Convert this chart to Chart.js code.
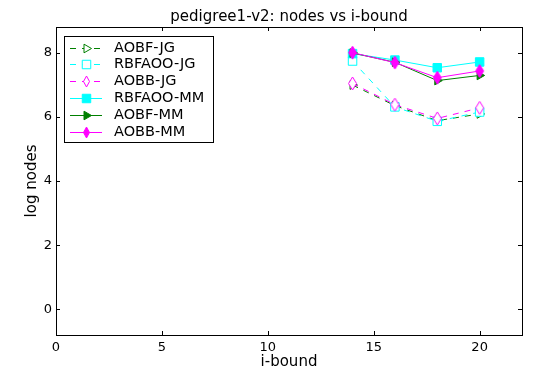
<!DOCTYPE html>
<html>
<head>
<meta charset="utf-8">
<script src="https://cdn.jsdelivr.net/npm/chart.js@4"></script>
<style>
  html, body { margin: 0; padding: 0; background: #fff; }
  #wrap { width: 534px; height: 372px; }
</style>
</head>
<body>
<div id="wrap"><canvas id="nodesChart"></canvas></div>
<script>
// datos
const iBounds = [14, 16, 18, 20];
const aobfJG = [6.99, 6.35, 5.88, 6.09];
const rbfaooJG = [7.74, 6.31, 5.86, 6.15];
const aobbJG = [7.04, 6.38, 5.95, 6.28];
const rbfaooMM = [7.97, 7.77, 7.53, 7.71];
const aobfMM = [7.99, 7.70, 7.13, 7.29];
const aobbMM = [8.00, 7.69, 7.22, 7.43];
const xTicks = [0, 5, 10, 15, 20];
const yTicks = [0, 2, 4, 6, 8];

const FONT = "'DejaVu Sans', sans-serif";

// rombo delgado tipo matplotlib 'd'
function thinDiamond(color, filled, w, h) {
  const c = document.createElement('canvas');
  c.width = w + 2; c.height = h + 2;
  const g = c.getContext('2d');
  const cx = (w + 2) / 2, cy = (h + 2) / 2;
  g.beginPath();
  g.moveTo(cx, 1); g.lineTo(cx + w / 2 - 0.5, cy); g.lineTo(cx, h + 1); g.lineTo(cx - w / 2 + 0.5, cy); g.closePath();
  g.fillStyle = filled ? color : '#fff';
  g.fill();
  g.lineWidth = 1;
  g.strokeStyle = color;
  g.stroke();
  return c;
}

function pts(ys) {
  return iBounds.map((x, i) => ({ x: x, y: ys[i] }));
}

const series = [
  { label: 'AOBF-JG', data: aobfJG, color: '#008000', dash: true, marker: 'triangle', filled: false },
  { label: 'RBFAOO-JG', data: rbfaooJG, color: '#00ffff', dash: true, marker: 'rect', filled: false },
  { label: 'AOBB-JG', data: aobbJG, color: '#ff00ff', dash: true, marker: 'diamond', filled: false },
  { label: 'RBFAOO-MM', data: rbfaooMM, color: '#00ffff', dash: false, marker: 'rect', filled: true },
  { label: 'AOBF-MM', data: aobfMM, color: '#008000', dash: false, marker: 'triangle', filled: true },
  { label: 'AOBB-MM', data: aobbMM, color: '#ff00ff', dash: false, marker: 'diamond', filled: true }
];

const markerRadius = { rect: 6, triangle: 5, diamond: 4.5 };

const datasets = series.map((s, i) => {
  const isDia = s.marker === 'diamond';
  return {
    label: s.label,
    data: pts(s.data),
    showLine: true,
    borderColor: s.color,
    backgroundColor: s.filled ? s.color : '#fff',
    borderWidth: 1,
    borderDash: s.dash ? [6, 6] : [],
    pointStyle: isDia ? thinDiamond(s.color, s.filled, 9, 13) : s.marker,
    pointRotation: s.marker === 'triangle' ? 90 : 0,
    pointRadius: markerRadius[s.marker],
    pointBorderWidth: 1,
    pointBorderColor: s.color,
    pointBackgroundColor: s.filled ? s.color : '#fff',
    order: series.length - i
  };
});

// marco, marcas hacia dentro, titulo y leyenda estilo matplotlib
const mplPlugin = {
  id: 'mpl',
  afterDraw(chart) {
    const ctx = chart.ctx;
    const a = chart.chartArea;
    const xs = chart.scales.x, ys = chart.scales.y;
    ctx.save();
    ctx.strokeStyle = '#000';
    ctx.lineWidth = 1;
    ctx.setLineDash([]);
    ctx.strokeRect(Math.round(a.left) + 0.5, Math.round(a.top) + 0.5, Math.round(a.right - a.left), Math.round(a.bottom - a.top));
    ctx.beginPath();
    xTicks.forEach(v => {
      const p = Math.round(xs.getPixelForValue(v)) + 0.5;
      ctx.moveTo(p, a.bottom); ctx.lineTo(p, a.bottom - 4);
      ctx.moveTo(p, a.top); ctx.lineTo(p, a.top + 4);
    });
    yTicks.forEach(v => {
      const p = Math.round(ys.getPixelForValue(v)) + 0.5;
      ctx.moveTo(a.left, p); ctx.lineTo(a.left + 4, p);
      ctx.moveTo(a.right, p); ctx.lineTo(a.right - 4, p);
    });
    ctx.stroke();

    ctx.fillStyle = '#000';
    ctx.font = '15px ' + FONT;
    ctx.textAlign = 'center';
    ctx.textBaseline = 'middle';
    ctx.fillText('pedigree1-v2: nodes vs i-bound', (a.left + a.right) / 2, 17);

    // leyenda
    const bx = 64, by = 36, bw = 149, bh = 106;
    ctx.fillStyle = '#fff';
    ctx.fillRect(bx, by, bw, bh);
    ctx.strokeStyle = '#000';
    ctx.strokeRect(bx + 0.5, by + 0.5, bw, bh);
    chart.data.datasets.forEach((ds, i) => {
      const s = series[i];
      const y = Math.round(47.5 + i * 16.9) + 0.5;
      ctx.strokeStyle = s.color;
      ctx.lineWidth = 1;
      ctx.setLineDash(s.dash ? [6, 6] : []);
      ctx.beginPath();
      ctx.moveTo(70, y); ctx.lineTo(102, y);
      ctx.stroke();
      ctx.setLineDash([]);
      ctx.fillStyle = s.filled ? s.color : '#fff';
      ctx.strokeStyle = s.color;
      const legStyle = s.marker === 'diamond' ? thinDiamond(s.color, s.filled, 7, 11) : ds.pointStyle;
      Chart.helpers.drawPoint(ctx, {
        pointStyle: legStyle,
        rotation: ds.pointRotation,
        radius: markerRadius[s.marker],
        borderWidth: 1
      }, 86.5, y);
      ctx.fillStyle = '#000';
      ctx.font = '14.5px ' + FONT;
      ctx.textAlign = 'left';
      ctx.fillText(s.label, 114, y);
    });
    ctx.restore();
  }
};

new Chart(document.getElementById('nodesChart'), {
  type: 'scatter',
  data: { datasets: datasets },
  options: {
    responsive: true,
    maintainAspectRatio: false,
    animation: false,
    layout: { padding: { top: 27, right: 12, left: 0, bottom: 0 } },
    plugins: {
      legend: { display: false },
      tooltip: { enabled: false }
    },
    scales: {
      x: {
        type: 'linear',
        min: 0,
        max: 22,
        afterBuildTicks: s => { s.ticks = xTicks.map(v => ({ value: v })); },
        afterFit: s => { s.height = 37; },
        grid: { display: false, drawTicks: false },
        border: { display: false },
        ticks: { color: '#000', font: { family: FONT, size: 13 }, padding: 5, maxRotation: 0 },
        title: { display: true, text: 'i-bound', color: '#000', font: { family: FONT, size: 15 }, padding: { top: 0, bottom: 1 } }
      },
      y: {
        type: 'linear',
        min: -0.8,
        max: 8.8,
        afterBuildTicks: s => { s.ticks = yTicks.map(v => ({ value: v })); },
        afterFit: s => { s.width = 56; },
        grid: { display: false, drawTicks: false },
        border: { display: false },
        ticks: { color: '#000', font: { family: FONT, size: 13 }, padding: 4 },
        title: { display: true, text: 'log nodes', color: '#000', font: { family: FONT, size: 15 }, padding: { top: 23, bottom: 0 } }
      }
    }
  },
  plugins: [mplPlugin]
});
</script>
</body>
</html>
